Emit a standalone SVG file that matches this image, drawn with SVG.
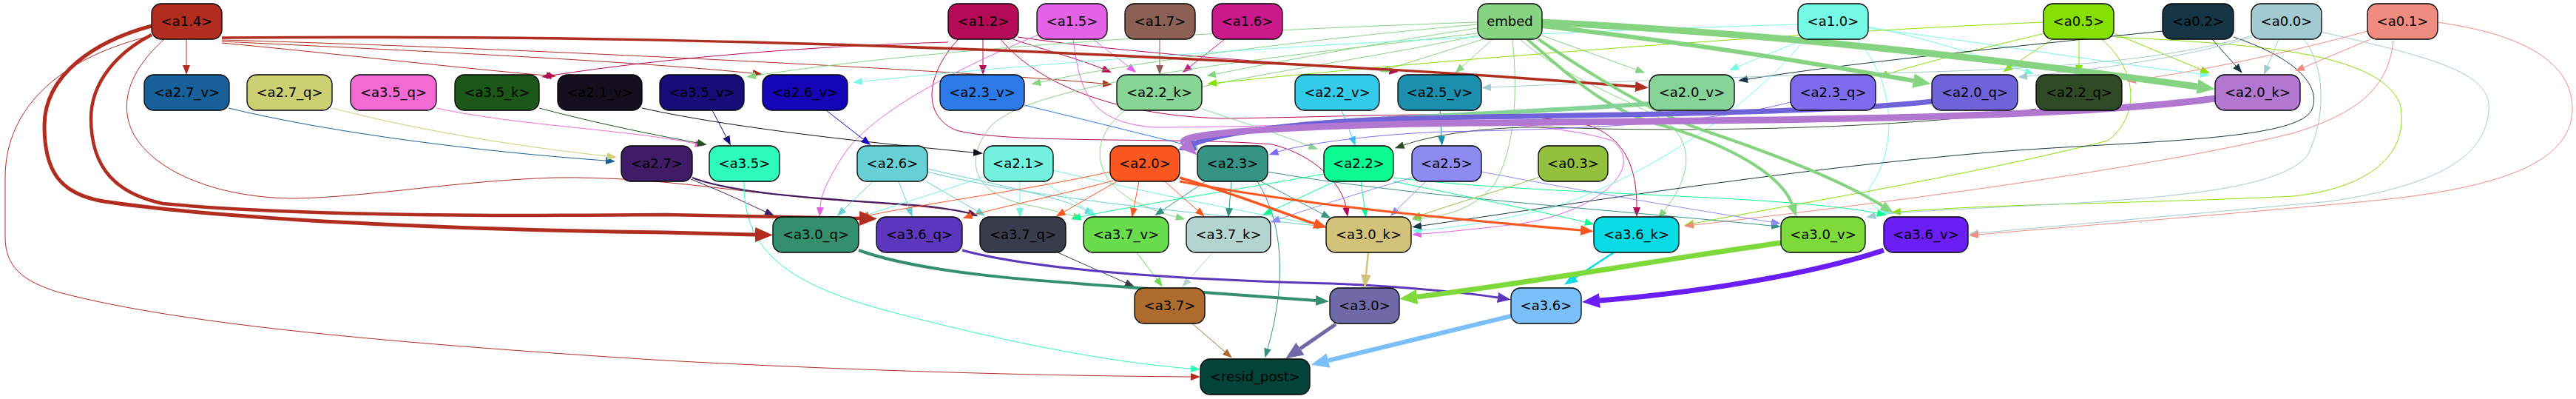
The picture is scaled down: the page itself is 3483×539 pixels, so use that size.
<svg xmlns="http://www.w3.org/2000/svg" width="3483" height="539" viewBox="0 0 3483 539">
<style>
.node rect{stroke:#000;stroke-width:1.3}
.node text{font-family:"DejaVu Sans","Liberation Sans",sans-serif;font-size:18px;text-anchor:middle;fill:#000}
.edges path{fill:none;stroke-width:1}
.s-a14{stroke:#b12d20}.s-a12{stroke:#b40a58}.s-a15{stroke:#e462e6}.s-a17{stroke:#8b6055}.s-a16{stroke:#c9198a}
.s-emb{stroke:#86d481}.s-a10{stroke:#76fae6}.s-a05{stroke:#87e004}.s-a02{stroke:#163645}.s-a00{stroke:#a1cbd0}.s-a01{stroke:#f08b80}
.s-a27v{stroke:#17609a}.s-a27q{stroke:#cccf72}.s-a35q{stroke:#f46ad5}.s-a35k{stroke:#1c5618}.s-a21v{stroke:#140f1e}.s-a35v{stroke:#170c78}
.s-a26v{stroke:#1405b8}.s-a23v{stroke:#2b7ae8}.s-a22k{stroke:#86d594}.s-a22v{stroke:#34cbea}.s-a25v{stroke:#1a8fae}.s-a20v{stroke:#85d396}
.s-a23q{stroke:#7f6bee}.s-a20q{stroke:#7062d9}.s-a22q{stroke:#2f4b25}.s-a20k{stroke:#b177d1}
.s-a27{stroke:#411c66}.s-a35{stroke:#2dfcbb}.s-a26{stroke:#66d0d4}.s-a21{stroke:#72f2de}.s-a20{stroke:#fa5721}.s-a23{stroke:#369283}
.s-a22{stroke:#0bfa91}.s-a25{stroke:#8d8bf1}.s-a03{stroke:#93c13e}
.s-a30q{stroke:#348f6e}.s-a36q{stroke:#5c36bd}.s-a37q{stroke:#393c4c}.s-a37v{stroke:#69dc4b}.s-a37k{stroke:#b4d4ce}
.s-a30k{stroke:#d2c27a}.s-a36k{stroke:#09dbe4}.s-a30v{stroke:#7ed93b}.s-a36v{stroke:#6a1ef4}
.s-a37{stroke:#ad6c2d}.s-a30{stroke:#6f69a8}.s-a36{stroke:#7abff8}
</style>
<defs>
<marker id="m-a14" markerWidth="13" markerHeight="10" refX="0" refY="5" orient="auto" markerUnits="userSpaceOnUse"><path d="M0,0L13,5L0,10z" fill="#b12d20"/></marker>
<marker id="m-a12" markerWidth="13" markerHeight="10" refX="0" refY="5" orient="auto" markerUnits="userSpaceOnUse"><path d="M0,0L13,5L0,10z" fill="#b40a58"/></marker>
<marker id="m-a15" markerWidth="13" markerHeight="10" refX="0" refY="5" orient="auto" markerUnits="userSpaceOnUse"><path d="M0,0L13,5L0,10z" fill="#e462e6"/></marker>
<marker id="m-a17" markerWidth="13" markerHeight="10" refX="0" refY="5" orient="auto" markerUnits="userSpaceOnUse"><path d="M0,0L13,5L0,10z" fill="#8b6055"/></marker>
<marker id="m-a16" markerWidth="13" markerHeight="10" refX="0" refY="5" orient="auto" markerUnits="userSpaceOnUse"><path d="M0,0L13,5L0,10z" fill="#c9198a"/></marker>
<marker id="m-emb" markerWidth="13" markerHeight="10" refX="0" refY="5" orient="auto" markerUnits="userSpaceOnUse"><path d="M0,0L13,5L0,10z" fill="#86d481"/></marker>
<marker id="m-a10" markerWidth="13" markerHeight="10" refX="0" refY="5" orient="auto" markerUnits="userSpaceOnUse"><path d="M0,0L13,5L0,10z" fill="#76fae6"/></marker>
<marker id="m-a05" markerWidth="13" markerHeight="10" refX="0" refY="5" orient="auto" markerUnits="userSpaceOnUse"><path d="M0,0L13,5L0,10z" fill="#87e004"/></marker>
<marker id="m-a02" markerWidth="13" markerHeight="10" refX="0" refY="5" orient="auto" markerUnits="userSpaceOnUse"><path d="M0,0L13,5L0,10z" fill="#163645"/></marker>
<marker id="m-a00" markerWidth="13" markerHeight="10" refX="0" refY="5" orient="auto" markerUnits="userSpaceOnUse"><path d="M0,0L13,5L0,10z" fill="#a1cbd0"/></marker>
<marker id="m-a01" markerWidth="13" markerHeight="10" refX="0" refY="5" orient="auto" markerUnits="userSpaceOnUse"><path d="M0,0L13,5L0,10z" fill="#f08b80"/></marker>
<marker id="m-a27v" markerWidth="13" markerHeight="10" refX="0" refY="5" orient="auto" markerUnits="userSpaceOnUse"><path d="M0,0L13,5L0,10z" fill="#17609a"/></marker>
<marker id="m-a27q" markerWidth="13" markerHeight="10" refX="0" refY="5" orient="auto" markerUnits="userSpaceOnUse"><path d="M0,0L13,5L0,10z" fill="#cccf72"/></marker>
<marker id="m-a35q" markerWidth="13" markerHeight="10" refX="0" refY="5" orient="auto" markerUnits="userSpaceOnUse"><path d="M0,0L13,5L0,10z" fill="#f46ad5"/></marker>
<marker id="m-a35k" markerWidth="13" markerHeight="10" refX="0" refY="5" orient="auto" markerUnits="userSpaceOnUse"><path d="M0,0L13,5L0,10z" fill="#1c5618"/></marker>
<marker id="m-a21v" markerWidth="13" markerHeight="10" refX="0" refY="5" orient="auto" markerUnits="userSpaceOnUse"><path d="M0,0L13,5L0,10z" fill="#140f1e"/></marker>
<marker id="m-a35v" markerWidth="13" markerHeight="10" refX="0" refY="5" orient="auto" markerUnits="userSpaceOnUse"><path d="M0,0L13,5L0,10z" fill="#170c78"/></marker>
<marker id="m-a26v" markerWidth="13" markerHeight="10" refX="0" refY="5" orient="auto" markerUnits="userSpaceOnUse"><path d="M0,0L13,5L0,10z" fill="#1405b8"/></marker>
<marker id="m-a23v" markerWidth="13" markerHeight="10" refX="0" refY="5" orient="auto" markerUnits="userSpaceOnUse"><path d="M0,0L13,5L0,10z" fill="#2b7ae8"/></marker>
<marker id="m-a22k" markerWidth="13" markerHeight="10" refX="0" refY="5" orient="auto" markerUnits="userSpaceOnUse"><path d="M0,0L13,5L0,10z" fill="#86d594"/></marker>
<marker id="m-a22v" markerWidth="13" markerHeight="10" refX="0" refY="5" orient="auto" markerUnits="userSpaceOnUse"><path d="M0,0L13,5L0,10z" fill="#34cbea"/></marker>
<marker id="m-a25v" markerWidth="13" markerHeight="10" refX="0" refY="5" orient="auto" markerUnits="userSpaceOnUse"><path d="M0,0L13,5L0,10z" fill="#1a8fae"/></marker>
<marker id="m-a22q" markerWidth="13" markerHeight="10" refX="0" refY="5" orient="auto" markerUnits="userSpaceOnUse"><path d="M0,0L13,5L0,10z" fill="#2f4b25"/></marker>
<marker id="m-a23q" markerWidth="13" markerHeight="10" refX="0" refY="5" orient="auto" markerUnits="userSpaceOnUse"><path d="M0,0L13,5L0,10z" fill="#7f6bee"/></marker>
<marker id="m-a27" markerWidth="13" markerHeight="10" refX="0" refY="5" orient="auto" markerUnits="userSpaceOnUse"><path d="M0,0L13,5L0,10z" fill="#411c66"/></marker>
<marker id="m-a35" markerWidth="13" markerHeight="10" refX="0" refY="5" orient="auto" markerUnits="userSpaceOnUse"><path d="M0,0L13,5L0,10z" fill="#2dfcbb"/></marker>
<marker id="m-a26" markerWidth="13" markerHeight="10" refX="0" refY="5" orient="auto" markerUnits="userSpaceOnUse"><path d="M0,0L13,5L0,10z" fill="#66d0d4"/></marker>
<marker id="m-a21" markerWidth="13" markerHeight="10" refX="0" refY="5" orient="auto" markerUnits="userSpaceOnUse"><path d="M0,0L13,5L0,10z" fill="#72f2de"/></marker>
<marker id="m-a20" markerWidth="13" markerHeight="10" refX="0" refY="5" orient="auto" markerUnits="userSpaceOnUse"><path d="M0,0L13,5L0,10z" fill="#fa5721"/></marker>
<marker id="m-a23" markerWidth="13" markerHeight="10" refX="0" refY="5" orient="auto" markerUnits="userSpaceOnUse"><path d="M0,0L13,5L0,10z" fill="#369283"/></marker>
<marker id="m-a22" markerWidth="13" markerHeight="10" refX="0" refY="5" orient="auto" markerUnits="userSpaceOnUse"><path d="M0,0L13,5L0,10z" fill="#0bfa91"/></marker>
<marker id="m-a25" markerWidth="13" markerHeight="10" refX="0" refY="5" orient="auto" markerUnits="userSpaceOnUse"><path d="M0,0L13,5L0,10z" fill="#8d8bf1"/></marker>
<marker id="m-a03" markerWidth="13" markerHeight="10" refX="0" refY="5" orient="auto" markerUnits="userSpaceOnUse"><path d="M0,0L13,5L0,10z" fill="#93c13e"/></marker>
<marker id="m-a37q" markerWidth="13" markerHeight="10" refX="0" refY="5" orient="auto" markerUnits="userSpaceOnUse"><path d="M0,0L13,5L0,10z" fill="#393c4c"/></marker>
<marker id="m-a37v" markerWidth="13" markerHeight="10" refX="0" refY="5" orient="auto" markerUnits="userSpaceOnUse"><path d="M0,0L13,5L0,10z" fill="#69dc4b"/></marker>
<marker id="m-a37k" markerWidth="13" markerHeight="10" refX="0" refY="5" orient="auto" markerUnits="userSpaceOnUse"><path d="M0,0L13,5L0,10z" fill="#b4d4ce"/></marker>
<marker id="m-a37" markerWidth="13" markerHeight="10" refX="0" refY="5" orient="auto" markerUnits="userSpaceOnUse"><path d="M0,0L13,5L0,10z" fill="#ad6c2d"/></marker>
<marker id="n-a14" markerWidth="18" markerHeight="14" refX="0" refY="7" orient="auto" markerUnits="userSpaceOnUse"><path d="M0,0L18,7L0,14z" fill="#b12d20"/></marker>
<marker id="n-emb" markerWidth="18" markerHeight="14" refX="0" refY="7" orient="auto" markerUnits="userSpaceOnUse"><path d="M0,0L18,7L0,14z" fill="#86d481"/></marker>
<marker id="n-a20" markerWidth="18" markerHeight="14" refX="0" refY="7" orient="auto" markerUnits="userSpaceOnUse"><path d="M0,0L18,7L0,14z" fill="#fa5721"/></marker>
<marker id="n-a30q" markerWidth="18" markerHeight="14" refX="0" refY="7" orient="auto" markerUnits="userSpaceOnUse"><path d="M0,0L18,7L0,14z" fill="#348f6e"/></marker>
<marker id="n-a36q" markerWidth="18" markerHeight="14" refX="0" refY="7" orient="auto" markerUnits="userSpaceOnUse"><path d="M0,0L18,7L0,14z" fill="#5c36bd"/></marker>
<marker id="n-a30k" markerWidth="18" markerHeight="14" refX="0" refY="7" orient="auto" markerUnits="userSpaceOnUse"><path d="M0,0L18,7L0,14z" fill="#d2c27a"/></marker>
<marker id="n-a36k" markerWidth="18" markerHeight="14" refX="0" refY="7" orient="auto" markerUnits="userSpaceOnUse"><path d="M0,0L18,7L0,14z" fill="#09dbe4"/></marker>
<marker id="t-a14" markerWidth="24" markerHeight="20" refX="0" refY="10" orient="auto" markerUnits="userSpaceOnUse"><path d="M0,0L24,10L0,20z" fill="#b12d20"/></marker>
<marker id="t-emb" markerWidth="24" markerHeight="20" refX="0" refY="10" orient="auto" markerUnits="userSpaceOnUse"><path d="M0,0L24,10L0,20z" fill="#86d481"/></marker>
<marker id="t-a20q" markerWidth="24" markerHeight="20" refX="0" refY="10" orient="auto" markerUnits="userSpaceOnUse"><path d="M0,0L24,10L0,20z" fill="#7062d9"/></marker>
<marker id="t-a20k" markerWidth="24" markerHeight="20" refX="0" refY="10" orient="auto" markerUnits="userSpaceOnUse"><path d="M0,0L24,10L0,20z" fill="#b177d1"/></marker>
<marker id="t-a20v" markerWidth="24" markerHeight="20" refX="0" refY="10" orient="auto" markerUnits="userSpaceOnUse"><path d="M0,0L24,10L0,20z" fill="#85d396"/></marker>
<marker id="t-a30v" markerWidth="24" markerHeight="20" refX="0" refY="10" orient="auto" markerUnits="userSpaceOnUse"><path d="M0,0L24,10L0,20z" fill="#7ed93b"/></marker>
<marker id="t-a36v" markerWidth="24" markerHeight="20" refX="0" refY="10" orient="auto" markerUnits="userSpaceOnUse"><path d="M0,0L24,10L0,20z" fill="#6a1ef4"/></marker>
<marker id="t-a30" markerWidth="24" markerHeight="20" refX="0" refY="10" orient="auto" markerUnits="userSpaceOnUse"><path d="M0,0L24,10L0,20z" fill="#6f69a8"/></marker>
<marker id="t-a36" markerWidth="24" markerHeight="20" refX="0" refY="10" orient="auto" markerUnits="userSpaceOnUse"><path d="M0,0L24,10L0,20z" fill="#7abff8"/></marker>
</defs>
<rect x="0" y="0" width="3483" height="539" fill="#fff"/>
<g id="edges" class="edges">
<path class="s-a14" marker-end="url(#m-a14)" d="M252,53 L252,88"/>
<path class="s-a14" marker-end="url(#m-a14)" d="M206,48 C90,75 7,140 7,240 L7,320 C7,360 30,380 80,395 C250,440 550,465 900,487 C1200,503 1450,508 1610,509"/>
<path class="s-a14" marker-end="url(#m-a14)" d="M300,58 C450,72 620,92 739,102"/>
<path class="s-a14" marker-end="url(#m-a14)" d="M300,56 C550,68 850,82 1018,99"/>
<path class="s-a14" marker-end="url(#m-a14)" d="M300,54 C700,65 1300,95 1491,113"/>
<path class="s-a14" marker-end="url(#m-a14)" d="M222,53 C175,95 160,140 180,180 C210,235 300,268 400,268 C500,266 620,244 750,240 C900,238 1000,262 1150,272 C1240,278 1285,282 1309,288"/>
<path class="s-a12" marker-end="url(#m-a12)" d="M1282,57 C1100,62 900,78 745,102"/>
<path class="s-a12" marker-end="url(#m-a12)" d="M1329,53 L1329,88"/>
<path class="s-a12" marker-end="url(#m-a12)" d="M1370,53 C1420,70 1460,80 1491,93"/>
<path class="s-a12" marker-end="url(#m-a12)" d="M1376,50 C1550,75 1750,85 1878,96"/>
<path class="s-a12" marker-end="url(#m-a12)" d="M1353,53 C1400,110 1500,155 1650,160 C1850,158 2050,145 2150,170 C2205,190 2213,240 2213,280"/>
<path class="s-a12" marker-end="url(#m-a12)" d="M1296,53 C1260,90 1240,150 1290,175 C1350,195 1600,185 1720,195 C1780,210 1815,250 1820,280"/>
<path class="s-a15" marker-end="url(#m-a15)" d="M1478,53 L1526,90"/>
<path class="s-a15" marker-end="url(#m-a15)" d="M1404,47 C1300,90 1180,150 1140,210 C1115,250 1110,265 1109,280"/>
<path class="s-a15" marker-end="url(#m-a15)" d="M1451,53 C1460,120 1470,165 1560,172 C1800,172 2050,150 2180,190 C2230,230 2150,290 2050,303 C1990,310 1950,314 1922,316"/>
<path class="s-a17" marker-end="url(#m-a17)" d="M1568,53 L1568,88"/>
<path class="s-a16" marker-end="url(#m-a16)" d="M1656,53 L1609,90"/>
<path class="s-emb" marker-end="url(#m-emb)" d="M1998,30 C1700,40 1300,60 1022,102"/>
<path class="s-emb" marker-end="url(#m-emb)" d="M1998,33 C1800,50 1550,80 1407,111"/>
<path class="s-emb" marker-end="url(#m-emb)" d="M1998,38 C1850,60 1720,85 1644,100"/>
<path class="s-emb" marker-end="url(#m-emb)" d="M2005,53 L1878,93"/>
<path class="s-emb" marker-end="url(#m-emb)" d="M2018,53 L1977,90"/>
<path class="s-emb" marker-end="url(#m-emb)" d="M2085,48 L2212,94"/>
<path class="s-emb" marker-end="url(#m-emb)" d="M2055,53 C2120,110 2220,140 2260,170 C2300,210 2270,260 2250,285"/>
<path class="s-emb" marker-end="url(#m-emb)" d="M2045,53 C2052,120 2050,200 2020,250 C1990,285 1950,292 1922,295"/>
<path class="s-emb" marker-end="url(#m-emb)" d="M1998,45 C1700,80 1400,110 1340,170 C1300,220 1320,260 1380,275 C1420,283 1440,288 1451,292"/>
<path class="s-emb" marker-end="url(#m-emb)" d="M1998,48 C1800,90 1600,110 1520,150 C1470,190 1480,240 1530,270 C1560,285 1578,290 1590,293"/>
<path class="s-a10" marker-end="url(#m-a10)" d="M2431,33 C2000,45 1500,75 1166,110"/>
<path class="s-a10" marker-end="url(#m-a10)" d="M2440,53 L2350,90"/>
<path class="s-a10" marker-end="url(#m-a10)" d="M2526,36 C2620,55 2690,80 2738,96"/>
<path class="s-a10" marker-end="url(#m-a10)" d="M2526,38 C2700,60 2850,85 2975,100"/>
<path class="s-a10" marker-end="url(#m-a10)" d="M2440,53 C2380,130 2250,230 2100,280 C2020,300 1960,308 1922,311"/>
<path class="s-a10" marker-end="url(#m-a10)" d="M2511,53 C2570,120 2560,210 2530,250 C2520,270 2535,282 2546,285"/>
<path class="s-a05" marker-end="url(#m-a05)" d="M2763,30 C2400,45 1900,85 1645,112"/>
<path class="s-a05" marker-end="url(#m-a05)" d="M2765,45 C2680,65 2600,85 2552,100"/>
<path class="s-a05" marker-end="url(#m-a05)" d="M2775,53 L2719,90"/>
<path class="s-a05" marker-end="url(#m-a05)" d="M2811,53 L2811,88"/>
<path class="s-a05" marker-end="url(#m-a05)" d="M2858,45 L2976,94"/>
<path class="s-a05" marker-end="url(#m-a05)" d="M2842,53 C2895,100 2890,160 2850,190 C2650,240 2400,280 2290,302"/>
<path class="s-a05" marker-end="url(#m-a05)" d="M2859,50 C3050,60 3215,70 3245,140 C3260,210 3200,255 3100,265 C2900,275 2700,275 2570,286"/>
<path class="s-a02" marker-end="url(#m-a02)" d="M2924,42 C2750,60 2500,85 2363,107"/>
<path class="s-a02" marker-end="url(#m-a02)" d="M2991,53 L3023,89"/>
<path class="s-a02" marker-end="url(#m-a02)" d="M3020,50 C3110,80 3140,120 3125,150 C3100,190 2900,190 2700,205 C2400,230 2100,280 1922,305"/>
<path class="s-a00" marker-end="url(#m-a00)" d="M3045,48 C2900,90 2700,95 2500,100 C2300,105 2150,112 2016,118"/>
<path class="s-a00" marker-end="url(#m-a00)" d="M3045,50 C2950,80 2820,95 2741,103"/>
<path class="s-a00" marker-end="url(#m-a00)" d="M3081,53 L3066,89"/>
<path class="s-a00" marker-end="url(#m-a00)" d="M3115,53 C3145,90 3145,160 3120,210 C3080,260 2900,270 2700,280 C2600,285 2550,288 2536,291"/>
<path class="s-a00" marker-end="url(#m-a00)" d="M3138,43 C3300,80 3370,100 3365,150 C3360,210 3300,250 3150,272 C2900,295 2750,308 2675,315"/>
<path class="s-a01" marker-end="url(#m-a01)" d="M3201,42 C3100,70 2980,95 2888,108"/>
<path class="s-a01" marker-end="url(#m-a01)" d="M3205,53 L3115,91"/>
<path class="s-a01" marker-end="url(#m-a01)" d="M3236,55 C3230,110 3200,150 3100,180 C2900,230 2500,280 2290,304"/>
<path class="s-a01" marker-end="url(#m-a01)" d="M3295,30 C3440,50 3480,100 3478,150 C3475,220 3380,255 3200,272 C2950,295 2750,310 2675,317"/>
<path class="s-a27v" marker-end="url(#m-a27v)" d="M309,146 C450,180 650,205 819,217"/>
<path class="s-a27q" marker-end="url(#m-a27q)" d="M449,146 C580,180 720,200 821,211"/>
<path class="s-a35q" marker-end="url(#m-a35q)" d="M590,146 C700,170 850,175 940,194"/>
<path class="s-a35k" marker-end="url(#m-a35k)" d="M729,146 C820,170 900,185 943,193"/>
<path class="s-a21v" marker-end="url(#m-a21v)" d="M868,146 C1000,175 1200,195 1316,206"/>
<path class="s-a35v" marker-end="url(#m-a35v)" d="M963,149 L982,185"/>
<path class="s-a26v" marker-end="url(#m-a26v)" d="M1117,149 L1167,188"/>
<path class="s-a23v" marker-end="url(#m-a23v)" d="M1385,142 C1480,165 1560,185 1605,196"/>
<path class="s-a22k" marker-end="url(#m-a22k)" d="M1625,147 C1680,165 1740,185 1770,197"/>
<path class="s-a22v" marker-end="url(#m-a22v)" d="M1814,149 L1828,185"/>
<path class="s-a25v" marker-end="url(#m-a25v)" d="M1947,149 L1949,184"/>
<path class="s-a22q" marker-end="url(#m-a22q)" d="M2753,147 C2600,172 2300,180 2100,172 C2000,170 1930,185 1898,196"/>
<path class="s-a23q" marker-end="url(#m-a23q)" d="M2421,138 C2300,170 2100,175 1950,178 C1850,182 1760,195 1728,205"/>
<path class="s-a27" marker-end="url(#m-a27)" d="M934,242 C980,260 1010,275 1035,286"/>
<path class="s-a27" marker-end="url(#m-a27)" style="stroke-width:2" d="M936,240 C1000,265 1150,270 1250,278 C1280,282 1300,285 1310,288"/>
<path class="s-a35" marker-end="url(#m-a35)" d="M1006,245 C1005,330 1050,380 1200,420 C1350,460 1500,490 1610,498"/>
<path class="s-a26" marker-end="url(#m-a26)" d="M1180,245 L1141,283"/>
<path class="s-a26" marker-end="url(#m-a26)" d="M1215,245 L1229,281"/>
<path class="s-a26" marker-end="url(#m-a26)" d="M1252,245 L1321,285"/>
<path class="s-a26" marker-end="url(#m-a26)" d="M1254,228 C1350,250 1440,268 1468,284"/>
<path class="s-a26" marker-end="url(#m-a26)" d="M1254,232 C1400,270 1650,290 1780,305"/>
<path class="s-a21" marker-end="url(#m-a21)" d="M1379,245 L1379,281"/>
<path class="s-a21" marker-end="url(#m-a21)" d="M1332,238 C1270,260 1200,280 1174,290"/>
<path class="s-a21" marker-end="url(#m-a21)" d="M1410,245 C1440,265 1462,278 1472,285"/>
<path class="s-a21" marker-end="url(#m-a21)" d="M1424,230 C1550,260 1700,290 1780,303"/>
<path class="s-a20" marker-end="url(#m-a20)" d="M1501,232 C1400,255 1250,275 1175,291"/>
<path class="s-a20" marker-end="url(#m-a20)" d="M1505,244 C1440,262 1350,280 1314,291"/>
<path class="s-a20" marker-end="url(#m-a20)" d="M1510,245 L1439,286"/>
<path class="s-a20" marker-end="url(#m-a20)" d="M1540,245 L1533,281"/>
<path class="s-a20" marker-end="url(#m-a20)" d="M1575,245 L1619,284"/>
<path class="s-a23" marker-end="url(#m-a23)" d="M1630,245 L1572,284"/>
<path class="s-a23" marker-end="url(#m-a23)" d="M1665,245 L1662,281"/>
<path class="s-a23" marker-end="url(#m-a23)" d="M1705,245 L1788,289"/>
<path class="s-a23" marker-end="url(#m-a23)" d="M1714,232 C1900,265 2200,285 2395,305"/>
<path class="s-a23" marker-end="url(#m-a23)" d="M1700,245 C1735,300 1740,380 1714,471"/>
<path class="s-a22" marker-end="url(#m-a22)" d="M1790,235 C1650,260 1520,280 1461,293"/>
<path class="s-a22" marker-end="url(#m-a22)" d="M1805,245 L1719,285"/>
<path class="s-a22" marker-end="url(#m-a22)" d="M1840,245 L1845,281"/>
<path class="s-a22" marker-end="url(#m-a22)" d="M1884,245 C1980,265 2080,285 2143,300"/>
<path class="s-a22" marker-end="url(#m-a22)" d="M1884,240 C2100,265 2400,262 2538,288"/>
<path class="s-a25" marker-end="url(#m-a25)" d="M1909,240 C1840,260 1760,285 1730,296"/>
<path class="s-a25" marker-end="url(#m-a25)" d="M1928,245 L1889,283"/>
<path class="s-a25" marker-end="url(#m-a25)" d="M2003,232 C2150,260 2300,285 2395,300"/>
<path class="s-a03" marker-end="url(#m-a03)" d="M2085,238 C2020,260 1950,280 1921,291"/>
<path class="s-a37q" marker-end="url(#m-a37q)" d="M1430,341 L1522,382"/>
<path class="s-a37v" marker-end="url(#m-a37v)" d="M1537,341 L1564,377"/>
<path class="s-a37k" marker-end="url(#m-a37k)" d="M1640,341 L1607,378"/>
<path class="s-a37" marker-end="url(#m-a37)" d="M1612,437 L1656,475"/>
<path class="s-a14" marker-end="url(#n-a14)" style="stroke-width:3.5" d="M300,51 C700,48 1000,54 1400,70 C1800,88 2000,100 2211,117"/>
<path class="s-emb" marker-end="url(#n-emb)" style="stroke-width:4" d="M2065,53 C2120,100 2170,150 2250,170 C2350,200 2410,240 2423,276"/>
<path class="s-emb" marker-end="url(#n-emb)" style="stroke-width:4" d="M2080,53 C2150,100 2230,150 2300,175 C2420,215 2500,250 2545,278"/>
<path class="s-a20" marker-end="url(#n-a20)" style="stroke-width:3.5" d="M1595,240 C1680,265 1740,290 1777,302"/>
<path class="s-a20" marker-end="url(#n-a20)" style="stroke-width:3" d="M1595,245 C1750,275 1950,295 2137,311"/>
<path class="s-a30q" marker-end="url(#n-a30q)" style="stroke-width:4" d="M1161,338 C1250,370 1400,380 1600,393 C1700,400 1750,404 1779,406"/>
<path class="s-a36q" marker-end="url(#n-a36q)" style="stroke-width:3" d="M1301,338 C1400,365 1600,378 1800,383 C1920,388 2000,398 2025,402"/>
<path class="s-a30k" marker-end="url(#n-a30k)" style="stroke-width:2.5" d="M1850,341 L1847,371"/>
<path class="s-a36k" marker-end="url(#n-a36k)" style="stroke-width:2.5" d="M2182,341 L2130,375"/>
<path class="s-a14" marker-end="url(#t-a14)" style="stroke-width:5" d="M205,35 C130,55 60,100 60,170 C60,230 80,262 140,272 C300,296 600,310 900,314 L1021,317"/>
<path class="s-a14" marker-end="url(#t-a14)" style="stroke-width:4.5" d="M205,47 C160,70 123,110 123,160 C123,230 160,262 220,275 C400,292 700,292 900,290 L1162,295"/>
<path class="s-emb" marker-end="url(#t-emb)" style="stroke-width:6" d="M2085,35 C2300,60 2450,85 2587,109"/>
<path class="s-emb" marker-end="url(#t-emb)" style="stroke-width:9" d="M2085,30 C2400,45 2700,80 2971,117"/>
<path class="s-a20v" marker-end="url(#t-a20v)" style="stroke-width:6" d="M2230,140 C2100,150 1950,155 1800,165 C1700,172 1640,185 1617,193"/>
<path class="s-a20q" marker-end="url(#t-a20q)" style="stroke-width:7" d="M2612,137 C2450,155 2100,155 1900,160 C1750,165 1650,180 1615,194"/>
<path class="s-a20k" marker-end="url(#t-a20k)" style="stroke-width:9" d="M2995,133 C2800,160 2400,163 2000,166 C1800,168 1585,178 1601,193"/>
<path class="s-a30v" marker-end="url(#t-a30v)" style="stroke-width:7" d="M2408,328 C2250,350 2050,385 1916,401"/>
<path class="s-a36v" marker-end="url(#t-a36v)" style="stroke-width:7" d="M2547,338 C2450,370 2300,395 2163,406"/>
<path class="s-a30" marker-end="url(#t-a30)" style="stroke-width:5" d="M1806,438 L1758,471"/>
<path class="s-a36" marker-end="url(#t-a36)" style="stroke-width:6" d="M2043,427 L1796,487"/>
</g>
<g id="n-a1_4" class="node"><rect x="205" y="5" width="95" height="48" rx="13" fill="#b12d20"/><text x="252.5" y="35">&lt;a1.4&gt;</text></g>
<g id="n-a1_2" class="node"><rect x="1282" y="5" width="95" height="48" rx="13" fill="#b40a58"/><text x="1329.5" y="35">&lt;a1.2&gt;</text></g>
<g id="n-a1_5" class="node"><rect x="1402" y="5" width="95" height="48" rx="13" fill="#e462e6"/><text x="1449.5" y="35">&lt;a1.5&gt;</text></g>
<g id="n-a1_7" class="node"><rect x="1521" y="5" width="95" height="48" rx="13" fill="#8b6055"/><text x="1568.5" y="35">&lt;a1.7&gt;</text></g>
<g id="n-a1_6" class="node"><rect x="1639" y="5" width="95" height="48" rx="13" fill="#c9198a"/><text x="1686.5" y="35">&lt;a1.6&gt;</text></g>
<g id="n-embed" class="node"><rect x="1998" y="5" width="87" height="48" rx="13" fill="#86d481"/><text x="2041.5" y="35">embed</text></g>
<g id="n-a1_0" class="node"><rect x="2431" y="5" width="95" height="48" rx="13" fill="#76fae6"/><text x="2478.5" y="35">&lt;a1.0&gt;</text></g>
<g id="n-a0_5" class="node"><rect x="2763" y="5" width="95" height="48" rx="13" fill="#87e004"/><text x="2810.5" y="35">&lt;a0.5&gt;</text></g>
<g id="n-a0_2" class="node"><rect x="2924" y="5" width="96" height="48" rx="13" fill="#163645"/><text x="2972" y="35">&lt;a0.2&gt;</text></g>
<g id="n-a0_0" class="node"><rect x="3044" y="5" width="95" height="48" rx="13" fill="#a1cbd0"/><text x="3091.5" y="35">&lt;a0.0&gt;</text></g>
<g id="n-a0_1" class="node"><rect x="3201" y="5" width="95" height="48" rx="13" fill="#f08b80"/><text x="3248.5" y="35">&lt;a0.1&gt;</text></g>
<g id="n-a2_7_v" class="node"><rect x="195" y="101" width="115" height="48" rx="13" fill="#17609a"/><text x="252.5" y="131">&lt;a2.7_v&gt;</text></g>
<g id="n-a2_7_q" class="node"><rect x="334" y="101" width="115" height="48" rx="13" fill="#cccf72"/><text x="391.5" y="131">&lt;a2.7_q&gt;</text></g>
<g id="n-a3_5_q" class="node"><rect x="474" y="101" width="116" height="48" rx="13" fill="#f46ad5"/><text x="532" y="131">&lt;a3.5_q&gt;</text></g>
<g id="n-a3_5_k" class="node"><rect x="615" y="101" width="114" height="48" rx="13" fill="#1c5618"/><text x="672" y="131">&lt;a3.5_k&gt;</text></g>
<g id="n-a2_1_v" class="node"><rect x="754" y="101" width="114" height="48" rx="13" fill="#140f1e"/><text x="811" y="131">&lt;a2.1_v&gt;</text></g>
<g id="n-a3_5_v" class="node"><rect x="892" y="101" width="114" height="48" rx="13" fill="#170c78"/><text x="949" y="131">&lt;a3.5_v&gt;</text></g>
<g id="n-a2_6_v" class="node"><rect x="1031" y="101" width="115" height="48" rx="13" fill="#1405b8"/><text x="1088.5" y="131">&lt;a2.6_v&gt;</text></g>
<g id="n-a2_3_v" class="node"><rect x="1271" y="101" width="114" height="48" rx="13" fill="#2b7ae8"/><text x="1328" y="131">&lt;a2.3_v&gt;</text></g>
<g id="n-a2_2_k" class="node"><rect x="1510" y="101" width="115" height="48" rx="13" fill="#86d594"/><text x="1567.5" y="131">&lt;a2.2_k&gt;</text></g>
<g id="n-a2_2_v" class="node"><rect x="1751" y="101" width="114" height="48" rx="13" fill="#34cbea"/><text x="1808" y="131">&lt;a2.2_v&gt;</text></g>
<g id="n-a2_5_v" class="node"><rect x="1890" y="101" width="113" height="48" rx="13" fill="#1a8fae"/><text x="1946.5" y="131">&lt;a2.5_v&gt;</text></g>
<g id="n-a2_0_v" class="node"><rect x="2230" y="101" width="115" height="48" rx="13" fill="#85d396"/><text x="2287.5" y="131">&lt;a2.0_v&gt;</text></g>
<g id="n-a2_3_q" class="node"><rect x="2421" y="101" width="115" height="48" rx="13" fill="#7f6bee"/><text x="2478.5" y="131">&lt;a2.3_q&gt;</text></g>
<g id="n-a2_0_q" class="node"><rect x="2612" y="101" width="116" height="48" rx="13" fill="#7062d9"/><text x="2670" y="131">&lt;a2.0_q&gt;</text></g>
<g id="n-a2_2_q" class="node"><rect x="2753" y="101" width="116" height="48" rx="13" fill="#2f4b25"/><text x="2811" y="131">&lt;a2.2_q&gt;</text></g>
<g id="n-a2_0_k" class="node"><rect x="2995" y="101" width="115" height="48" rx="13" fill="#b177d1"/><text x="3052.5" y="131">&lt;a2.0_k&gt;</text></g>
<g id="n-a2_7" class="node"><rect x="840" y="197" width="96" height="48" rx="13" fill="#411c66"/><text x="888" y="227">&lt;a2.7&gt;</text></g>
<g id="n-a3_5" class="node"><rect x="959" y="197" width="95" height="48" rx="13" fill="#2dfcbb"/><text x="1006.5" y="227">&lt;a3.5&gt;</text></g>
<g id="n-a2_6" class="node"><rect x="1159" y="197" width="95" height="48" rx="13" fill="#66d0d4"/><text x="1206.5" y="227">&lt;a2.6&gt;</text></g>
<g id="n-a2_1" class="node"><rect x="1330" y="197" width="94" height="48" rx="13" fill="#72f2de"/><text x="1377" y="227">&lt;a2.1&gt;</text></g>
<g id="n-a2_0" class="node"><rect x="1501" y="197" width="94" height="48" rx="13" fill="#fa5721"/><text x="1548" y="227">&lt;a2.0&gt;</text></g>
<g id="n-a2_3" class="node"><rect x="1619" y="197" width="95" height="48" rx="13" fill="#369283"/><text x="1666.5" y="227">&lt;a2.3&gt;</text></g>
<g id="n-a2_2" class="node"><rect x="1790" y="197" width="94" height="48" rx="13" fill="#0bfa91"/><text x="1837" y="227">&lt;a2.2&gt;</text></g>
<g id="n-a2_5" class="node"><rect x="1909" y="197" width="94" height="48" rx="13" fill="#8d8bf1"/><text x="1956" y="227">&lt;a2.5&gt;</text></g>
<g id="n-a0_3" class="node"><rect x="2080" y="197" width="94" height="48" rx="13" fill="#93c13e"/><text x="2127" y="227">&lt;a0.3&gt;</text></g>
<g id="n-a3_0_q" class="node"><rect x="1045" y="293" width="116" height="48" rx="13" fill="#348f6e"/><text x="1103" y="323">&lt;a3.0_q&gt;</text></g>
<g id="n-a3_6_q" class="node"><rect x="1185" y="293" width="116" height="48" rx="13" fill="#5c36bd"/><text x="1243" y="323">&lt;a3.6_q&gt;</text></g>
<g id="n-a3_7_q" class="node"><rect x="1325" y="293" width="116" height="48" rx="13" fill="#393c4c"/><text x="1383" y="323">&lt;a3.7_q&gt;</text></g>
<g id="n-a3_7_v" class="node"><rect x="1465" y="293" width="115" height="48" rx="13" fill="#69dc4b"/><text x="1522.5" y="323">&lt;a3.7_v&gt;</text></g>
<g id="n-a3_7_k" class="node"><rect x="1604" y="293" width="114" height="48" rx="13" fill="#b4d4ce"/><text x="1661" y="323">&lt;a3.7_k&gt;</text></g>
<g id="n-a3_0_k" class="node"><rect x="1793" y="293" width="115" height="48" rx="13" fill="#d2c27a"/><text x="1850.5" y="323">&lt;a3.0_k&gt;</text></g>
<g id="n-a3_6_k" class="node"><rect x="2155" y="293" width="115" height="48" rx="13" fill="#09dbe4"/><text x="2212.5" y="323">&lt;a3.6_k&gt;</text></g>
<g id="n-a3_0_v" class="node"><rect x="2408" y="293" width="114" height="48" rx="13" fill="#7ed93b"/><text x="2465" y="323">&lt;a3.0_v&gt;</text></g>
<g id="n-a3_6_v" class="node"><rect x="2547" y="293" width="114" height="48" rx="13" fill="#6a1ef4"/><text x="2604" y="323">&lt;a3.6_v&gt;</text></g>
<g id="n-a3_7" class="node"><rect x="1534" y="389" width="95" height="48" rx="13" fill="#ad6c2d"/><text x="1581.5" y="419">&lt;a3.7&gt;</text></g>
<g id="n-a3_0" class="node"><rect x="1798" y="389" width="94" height="48" rx="13" fill="#6f69a8"/><text x="1845" y="419">&lt;a3.0&gt;</text></g>
<g id="n-a3_6" class="node"><rect x="2043" y="389" width="95" height="48" rx="13" fill="#7abff8"/><text x="2090.5" y="419">&lt;a3.6&gt;</text></g>
<g id="n-resid_post" class="node"><rect x="1623" y="485" width="148" height="48" rx="13" fill="#03443a"/><text x="1697" y="515">&lt;resid_post&gt;</text></g>
</svg>
